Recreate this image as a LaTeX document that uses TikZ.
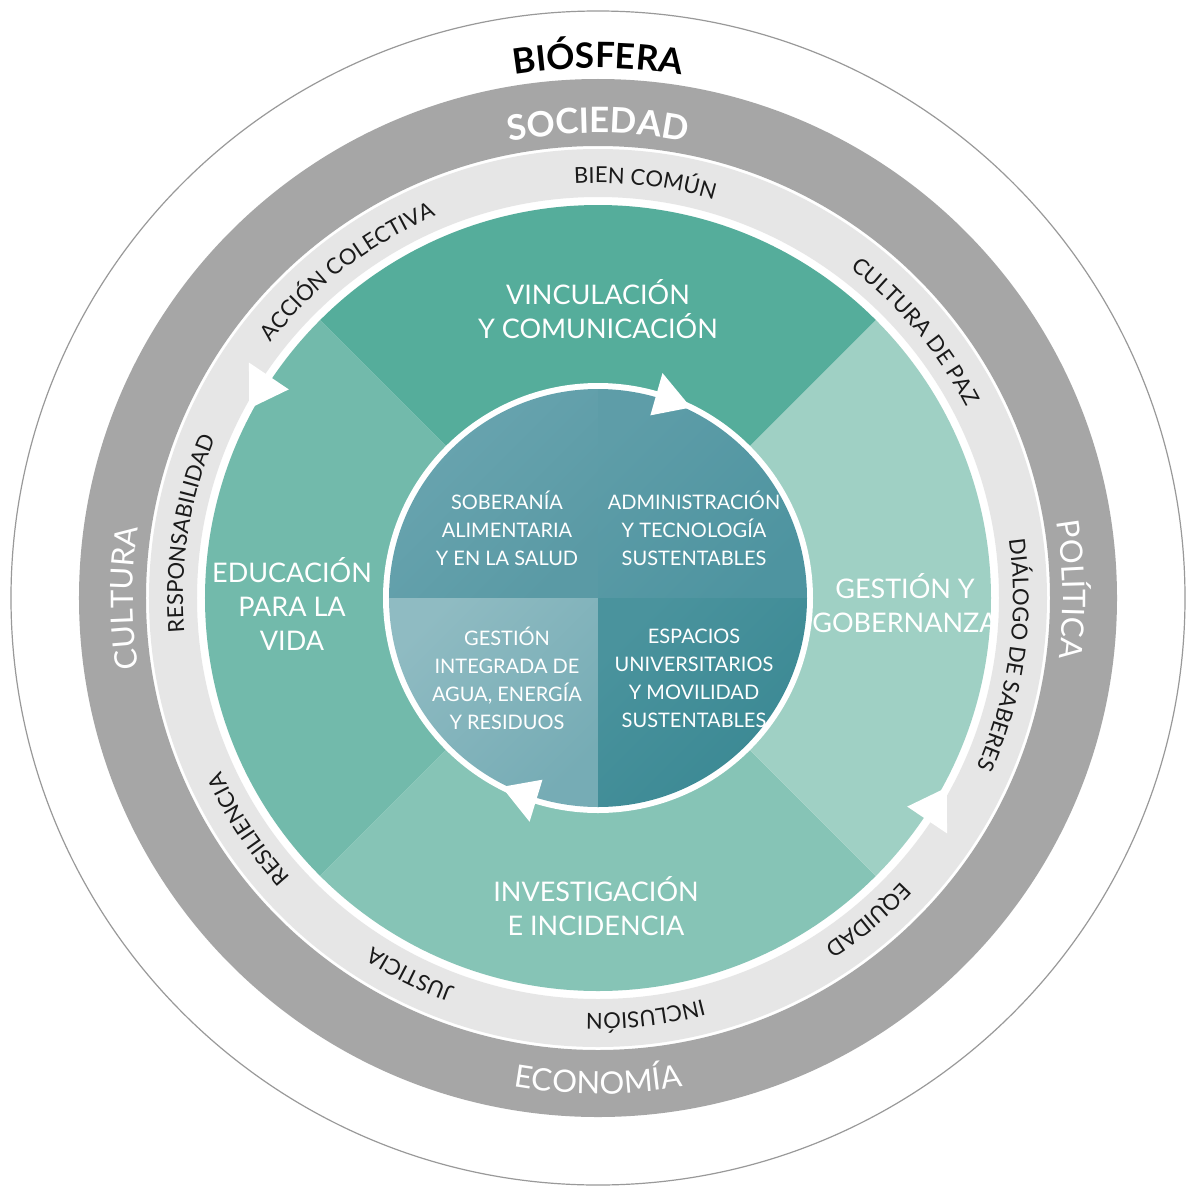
\documentclass[tikz,border=0pt]{standalone}
\usepackage{fontspec}
\setmainfont{Lato}
\usepackage{tikz}
\usetikzlibrary{decorations.text}

\definecolor{grisext}{HTML}{999999}
\definecolor{grisanillo}{HTML}{A6A6A6}
\definecolor{grisclaro}{HTML}{E6E6E6}
\definecolor{textoanillo}{HTML}{1A1A1A}
\definecolor{verdevinc}{HTML}{55AD9B}
\definecolor{verdeedu}{HTML}{72BAAB}
\definecolor{verdegest}{HTML}{9FD0C4}
\definecolor{verdeinv}{HTML}{86C4B6}
\definecolor{soba}{HTML}{6AA5B0}
\definecolor{sobb}{HTML}{5A9AA5}
\definecolor{adma}{HTML}{5E9DA8}
\definecolor{admb}{HTML}{4E94A0}
\definecolor{aguaa}{HTML}{8FBBC2}
\definecolor{aguab}{HTML}{76ACB5}
\definecolor{espa}{HTML}{4A939D}
\definecolor{espb}{HTML}{3A8893}

\begin{document}
\begin{tikzpicture}[x=1pt, y=1pt]
			\tikzstyle{anillo} = [decorate, decoration={text along path, text align=center}]
			\tikzstyle{zona} = [text=white, align=center, inner sep=0pt, font=\fontsize{27}{34}\selectfont]
			\tikzstyle{eje} = [text=white, align=center, inner sep=0pt, font=\fontsize{20}{28}\selectfont]
			\tikzstyle{punta} = [fill=white]
			\useasboundingbox (-598,-589) rectangle (592,598);
			\fill[white] (-598,-589) rectangle (592,598);

			% anillos exteriores
			\draw[grisext, line width=1.2pt] (0,0) circle[radius=587];
			\fill[grisanillo, even odd rule] (0,0) circle[radius=519] circle[radius=452];
			\fill[grisclaro, even odd rule] (0,0) circle[radius=449] circle[radius=401];

			% sectores verdes
			\fill[verdevinc] (0,0) -- (45:393) arc[start angle=45, end angle=135, radius=393] -- cycle;
			\fill[verdeedu] (0,0) -- (135:393) arc[start angle=135, end angle=225, radius=393] -- cycle;
			\fill[verdeinv] (0,0) -- (225:393) arc[start angle=225, end angle=315, radius=393] -- cycle;
			\fill[verdegest] (0,0) -- (315:393) arc[start angle=315, end angle=405, radius=393] -- cycle;

			% circulo central
			\fill[white] (0,0) circle[radius=215];
			\shade[left color=soba, right color=sobb, shading angle=45] (0,0) -- (90:209) arc[start angle=90, end angle=180, radius=209] -- cycle;
			\shade[left color=adma, right color=admb, shading angle=45] (0,0) -- (0:209) arc[start angle=0, end angle=90, radius=209] -- cycle;
			\shade[left color=aguaa, right color=aguab, shading angle=45] (0,0) -- (180:209) arc[start angle=180, end angle=270, radius=209] -- cycle;
			\shade[left color=espa, right color=espb, shading angle=45] (0,0) -- (270:209) arc[start angle=270, end angle=360, radius=209] -- cycle;

			% puntas de flecha
			\fill[punta] (146:373) -- (146:421) -- (151.5:397) -- cycle;
			\fill[punta] (326:373) -- (326:421) -- (331.5:397) -- cycle;
			\fill[punta] (74:190) -- (74:234) -- (64:212) -- cycle;
			\fill[punta] (253:190) -- (253:234) -- (243:212) -- cycle;

			% textos en los anillos
			\path[anillo, decoration={text={|\bfseries\fontsize{35}{35}\selectfont|BIÓSFERA}}] (125:530) arc[start angle=125, end angle=55, radius=530];
			\path[anillo, decoration={text={|\color{white}\bfseries\fontsize{35}{35}\selectfont|SOCIEDAD}}] (130:465) arc[start angle=130, end angle=50, radius=465];
			\path[anillo, decoration={text={|\color{white}\fontsize{31}{31}\selectfont|CULTURA}}] (220:465) arc[start angle=220, end angle=140, radius=465];
			\path[anillo, decoration={text={|\color{white}\fontsize{31}{31}\selectfont|POLÍTICA}}] (41:465) arc[start angle=41, end angle=-39, radius=465];
			\path[anillo, decoration={text={|\color{white}\fontsize{31}{31}\selectfont|ECONOMÍA}}] (230:496) arc[start angle=230, end angle=310, radius=496];

			\path[anillo, decoration={text={|\color{textoanillo}\fontsize{22}{22}\selectfont|BIEN COMÚN}}] (108.5:415) arc[start angle=108.5, end angle=58.5, radius=415];
			\path[anillo, decoration={text={|\color{textoanillo}\fontsize{22}{22}\selectfont|CULTURA DE PAZ}}] (65:415) arc[start angle=65, end angle=15, radius=415];
			\path[anillo, decoration={text={|\color{textoanillo}\fontsize{22}{22}\selectfont|DIÁLOGO DE SABERES}}] (17:415) arc[start angle=17, end angle=-33, radius=415];
			\path[anillo, decoration={text={|\color{textoanillo}\fontsize{22}{22}\selectfont|EQUIDAD}}] (-25:415) arc[start angle=-25, end angle=-75, radius=415];
			\path[anillo, decoration={text={|\color{textoanillo}\fontsize{22}{22}\selectfont|INCLUSIÓN}}] (-58.5:415) arc[start angle=-58.5, end angle=-108.5, radius=415];
			\path[anillo, decoration={text={|\color{textoanillo}\fontsize{22}{22}\selectfont|JUSTICIA}}] (-91.5:415) arc[start angle=-91.5, end angle=-141.5, radius=415];
			\path[anillo, decoration={text={|\color{textoanillo}\fontsize{22}{22}\selectfont|RESILIENCIA}}] (-121.5:415) arc[start angle=-121.5, end angle=-171.5, radius=415];
			\path[anillo, decoration={text={|\color{textoanillo}\fontsize{22}{22}\selectfont|RESPONSABILIDAD}}] (196:415) arc[start angle=196, end angle=146, radius=415];
			\path[anillo, decoration={text={|\color{textoanillo}\fontsize{22}{22}\selectfont|ACCIÓN COLECTIVA}}] (152.5:415) arc[start angle=152.5, end angle=102.5, radius=415];

			% zonas y ejes
			\begin{scope}[node distance=187pt]
			\path
			node[zona] (vinc) at (0,289) {VINCULACIÓN\\Y COMUNICACIÓN}
			node[zona] (edu) at (-306,-6) {EDUCACIÓN\\PARA LA\\VIDA}
			node[zona] (gest) at (307,-5) {GESTIÓN Y\\GOBERNANZA}
			node[zona] (inv) at (-2,-308) {INVESTIGACIÓN\\E INCIDENCIA}
			node[eje] (sob) at (-91,70) {SOBERANÍA\\ALIMENTARIA\\Y EN LA SALUD}
			node[eje, right of=sob] (adm) {ADMINISTRACIÓN\\Y TECNOLOGÍA\\SUSTENTABLES}
			node[eje, node distance=150pt, below of=sob] (agua) {GESTIÓN\\INTEGRADA DE\\AGUA, ENERGÍA\\Y RESIDUOS}
			node[eje, right of=agua] (esp) {ESPACIOS\\UNIVERSITARIOS\\Y MOVILIDAD\\SUSTENTABLES}
			;
			\end{scope}

\end{tikzpicture}
\end{document}
